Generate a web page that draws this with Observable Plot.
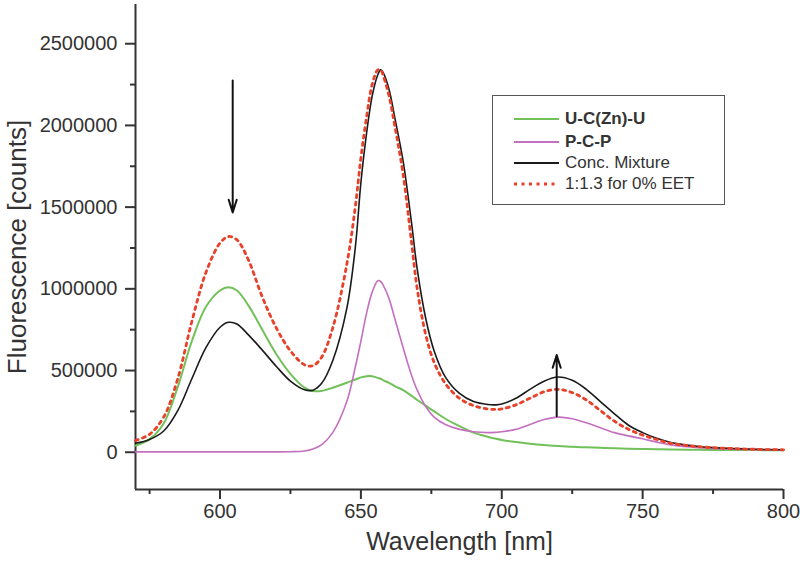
<!DOCTYPE html>
<html><head><meta charset="utf-8">
<script src="https://cdn.jsdelivr.net/npm/d3@7"></script>
<script src="https://cdn.jsdelivr.net/npm/@observablehq/plot@0.6"></script>
<style>
body{margin:0;background:#fff;}
#wrap{position:relative;width:800px;height:569px;font-family:"Liberation Sans",Arial,sans-serif;}
#legend{position:absolute;left:492px;top:95px;width:233px;height:110px;border:1.5px solid #555;background:#fff;box-sizing:border-box;}
.row{position:absolute;left:0;height:20px;display:flex;align-items:center;font-size:17px;color:#333;white-space:nowrap;}
.row svg{margin-left:21px;margin-right:6px;}
</style></head><body><div id="wrap"></div>
<script>
// ---- data ----
const wavelength = [570,575,580,585,590,595,600,603,606,610,615,620,625,630,633,636,640,645,648,650,652,654,656,657,658,660,662,665,668,670,673,676,680,685,690,695,698,700,705,710,715,720,725,730,735,740,745,750,755,760,770,780,790,800];
const ucznu = [40000,80000,176000,400000,680000,890000,990000,1010000,990000,900000,750000,600000,480000,395000,375000,375000,395000,425000,445000,458000,465000,465000,455000,450000,440000,425000,405000,380000,345000,320000,285000,250000,205000,160000,120000,95000,82000,75000,62000,52000,44000,38000,33000,30000,27000,25000,22000,20000,18000,17000,15000,14000,13000,12000];
const pcp = [2000,2000,2000,2000,2000,2000,2000,2000,2000,2000,2000,2000,3000,8000,20000,45000,120000,310000,520000,680000,850000,980000,1050000,1045000,1020000,940000,820000,640000,470000,380000,280000,215000,170000,140000,125000,120000,122000,125000,140000,170000,200000,215000,205000,180000,150000,120000,100000,82000,62000,45000,28000,20000,16000,14000];
const mixture = [55000,78000,130000,255000,450000,640000,765000,795000,785000,720000,625000,525000,435000,382000,380000,420000,560000,880000,1250000,1650000,1950000,2180000,2310000,2340000,2320000,2220000,2050000,1780000,1400000,1120000,820000,620000,460000,360000,310000,292000,290000,295000,330000,385000,435000,460000,440000,385000,310000,235000,165000,120000,85000,60000,35000,24000,18000,15000];
const noEET = [72000,110000,215000,450000,800000,1100000,1280000,1320000,1300000,1180000,950000,760000,620000,535000,530000,580000,760000,1150000,1500000,1800000,2050000,2250000,2340000,2340000,2300000,2180000,2000000,1700000,1280000,1000000,720000,550000,420000,330000,285000,265000,262000,265000,290000,330000,370000,385000,365000,320000,255000,190000,140000,105000,78000,55000,34000,24000,18000,15000];

const seriesNames = ["U-C(Zn)-U", "P-C-P", "Conc. Mixture", "1:1.3 for 0% EET"];
const seriesColors = ["#72c05a", "#c470c0", "#1a1a1a", "#e8412a"];

const xDomain = [570, 800];
const yDomain = [-228000, 2740000];
const xMajor = [600, 650, 700, 750, 800];
const xMinor = [575, 625, 675, 725, 775];
const yMajor = [0, 500000, 1000000, 1500000, 2000000, 2500000];
const yMinor = [250000, 750000, 1250000, 1750000, 2250000];

const arrowX = [604.5, 719.5];
const arrowFrom = [2275000, 220000];
const arrowTo = [1467000, 595000];

// ---- build ----
const rows = (vals) => wavelength.map((w, i) => ({w, v: vals[i]}));
const arrows = arrowX.map((x, i) => ({x, y1: arrowFrom[i], y2: arrowTo[i]}));
const font = "Liberation Sans, Arial, sans-serif";
const dots = "3,4.5";

const chart = Plot.plot({
  width: 800, height: 569,
  marginLeft: 135, marginRight: 17, marginTop: 4, marginBottom: 80,
  style: {fontFamily: font, color: "#333", background: "white"},
  x: {domain: xDomain},
  y: {domain: yDomain},
  marks: [
    Plot.axisX(xMajor, {tickSize: 10, tickPadding: 4, fontSize: 20, tickFormat: "d", strokeWidth: 2, label: null}),
    Plot.axisX(xMinor, {tickSize: 5, tickFormat: () => "", strokeWidth: 2, label: null}),
    Plot.axisY(yMajor, {tickSize: 10, tickPadding: 8, fontSize: 20, tickFormat: "d", strokeWidth: 2, label: null}),
    Plot.axisY(yMinor, {tickSize: 5, tickFormat: () => "", strokeWidth: 2, label: null}),
    Plot.ruleX([xDomain[0]], {stroke: "#333", strokeWidth: 2}),
    Plot.ruleY([yDomain[0]], {stroke: "#333", strokeWidth: 2}),
    Plot.line(rows(ucznu), {x: "w", y: "v", stroke: seriesColors[0], strokeWidth: 2, curve: "catmull-rom"}),
    Plot.line(rows(pcp), {x: "w", y: "v", stroke: seriesColors[1], strokeWidth: 1.6, curve: "catmull-rom"}),
    Plot.line(rows(mixture), {x: "w", y: "v", stroke: seriesColors[2], strokeWidth: 1.6, curve: "catmull-rom"}),
    Plot.line(rows(noEET), {x: "w", y: "v", stroke: seriesColors[3], strokeWidth: 2.8, strokeDasharray: dots, curve: "catmull-rom"}),
    Plot.arrow(arrows, {x1: "x", x2: "x", y1: "y1", y2: "y2", stroke: "#111", strokeWidth: 2, headLength: 10, headAngle: 35}),
    Plot.text(["Wavelength [nm]"], {frameAnchor: "bottom", textAnchor: "middle", dy: 60, fontSize: 25, fill: "#333"}),
    Plot.text(["Fluorescence [counts]"], {frameAnchor: "left", textAnchor: "middle", dx: -118, rotate: -90, fontSize: 26, fill: "#333"})
  ]
});

const wrap = document.getElementById("wrap");
wrap.appendChild(chart);

const legend = document.createElement("div");
legend.id = "legend";
const rowTops = [13, 36, 57, 78];
seriesNames.forEach((name, i) => {
  const r = document.createElement("div");
  r.className = "row";
  r.style.top = rowTops[i] + "px";
  const dash = i === 3 ? `stroke-dasharray="${dots}" stroke-width="2.8"` : 'stroke-width="2"';
  r.innerHTML = `<svg width="45" height="6"><line x1="0" y1="3" x2="45" y2="3" stroke="${seriesColors[i]}" ${dash}/></svg><span style="font-weight:${i < 2 ? 'bold' : 'normal'}">${name}</span>`;
  legend.appendChild(r);
});
wrap.appendChild(legend);
</script>
</body></html>
